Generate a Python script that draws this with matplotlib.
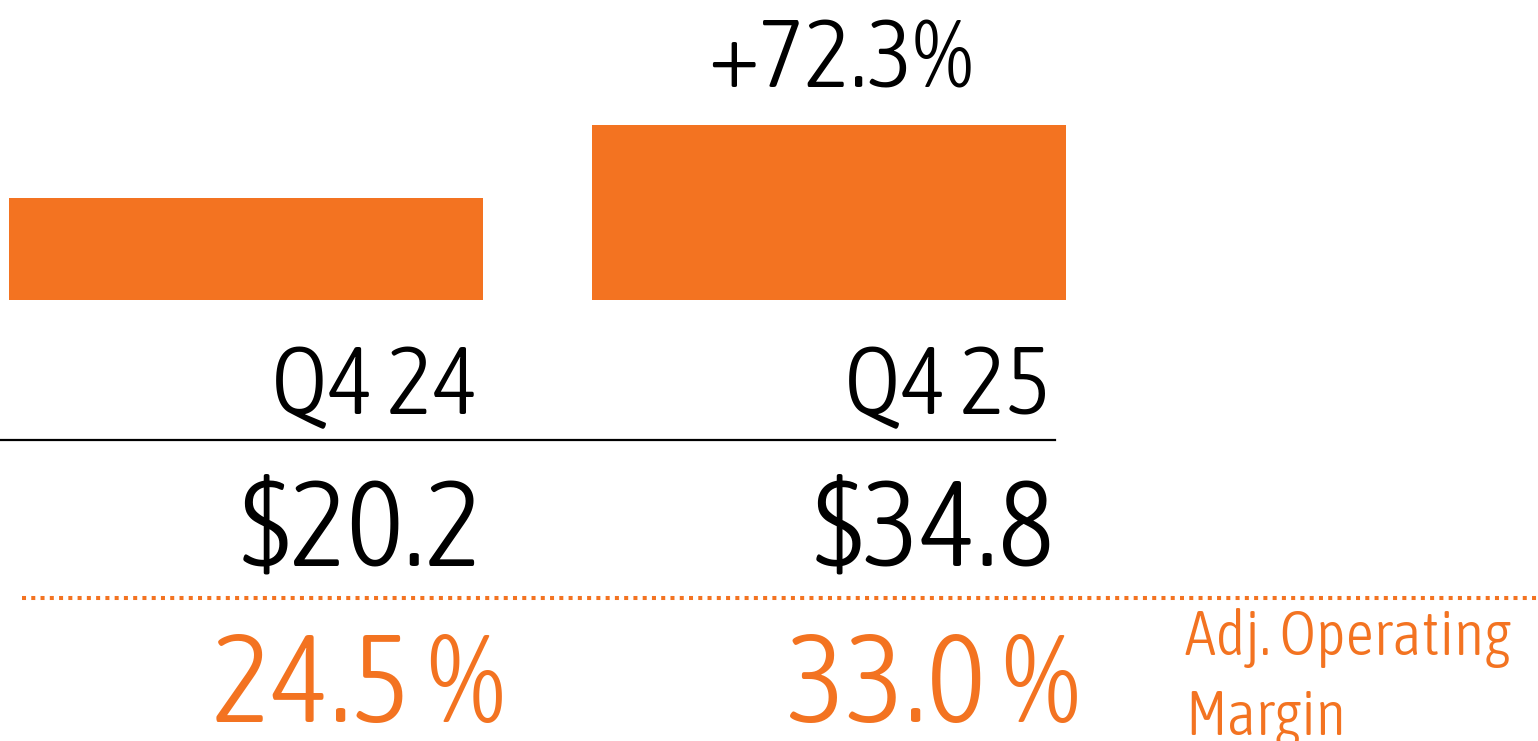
import numpy as np
import matplotlib
matplotlib.use("Agg")
import matplotlib.pyplot as plt

# --- data ---
periods = ["Q4 24", "Q4 25"]
revenue = [20.2, 34.8]
margin = [24.5, 33.0]
growth_label = "+72.3%"
margin_title = ["Adj. Operating", "Margin"]

ORANGE = "#F37321"
W, H = 1538, 741

plt.rcParams["font.family"] = ["Asap Condensed", "DejaVu Sans"]
plt.rcParams["font.weight"] = 300

fig = plt.figure(figsize=(W / 100, H / 100), dpi=100)


def fx(x):
    return x / W


def fy(y):
    return 1 - y / H


# bars: baseline at y=300 px, ~5.03 px per unit
px_per_unit = 5.03
ax = fig.add_axes([0, fy(300), 1, 300 / H])
ax.set_ylim(0, 300 / px_per_unit)
step = 583.0
ax.set_xlim(-246 / step, (W - 246) / step)
x = np.arange(len(periods))
ax.bar(x, revenue, width=474 / step, color=ORANGE)
ax.axis("off")

fig.text(fx(841), fy(88), growth_label, ha="center", va="baseline",
         fontsize=70, color="black")

right_q = [478, 1051]
right_v = [483, 1055]
right_m = [505, 1080]
for i, p in enumerate(periods):
    fig.text(fx(right_q[i]), fy(414), p, ha="right", va="baseline",
             fontsize=70, color="black")
    fig.text(fx(right_v[i]), fy(565), f"${revenue[i]:.1f}", ha="right",
             va="baseline", fontsize=87, color="black")
    fig.text(fx(right_m[i]), fy(722), f"{margin[i]:.1f} %", ha="right",
             va="baseline", fontsize=90, color=ORANGE)

# solid black separator
fig.add_artist(plt.Line2D([fx(0), fx(1055)], [fy(440), fy(440)],
                          color="black", lw=1.6))
# dotted orange separator
fig.add_artist(plt.Line2D([fx(22), fx(W)], [fy(598), fy(598)],
                          color=ORANGE, lw=2.9, linestyle=(0, (1, 1.3)),
                          dash_capstyle="butt"))

fig.text(fx(1185), fy(655), margin_title[0], ha="left",
         va="baseline", fontsize=45, color=ORANGE)
fig.text(fx(1185), fy(735), margin_title[1], ha="left",
         va="baseline", fontsize=45, color=ORANGE)

fig.savefig("out.png", dpi=100)
